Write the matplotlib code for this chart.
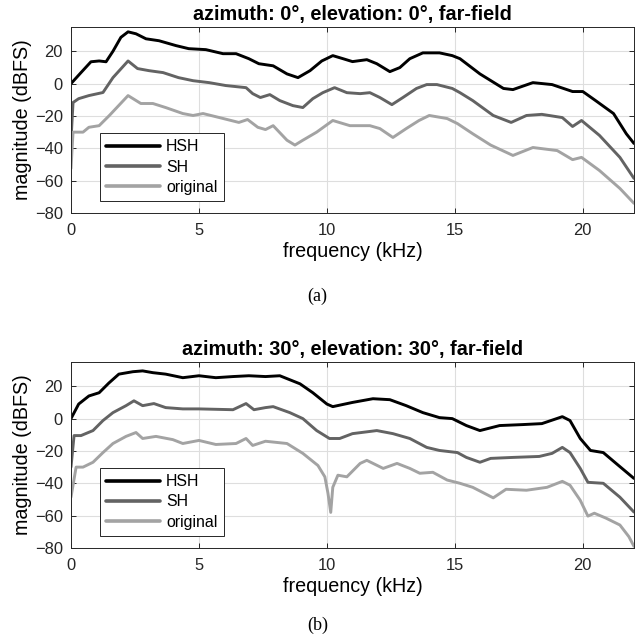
import matplotlib.pyplot as plt

plt.rcParams['font.family'] = ['Liberation Sans', 'DejaVu Sans']

# (a) azimuth 0, elevation 0
fa_hsh = [0, 0.39, 0.78, 1.1, 1.37, 1.64, 1.95, 2.23, 2.54, 2.93, 3.44, 4.1, 4.6, 5.27, 5.94,
          6.45, 6.95, 7.34, 7.9, 8.44, 8.87, 9.34, 9.8, 10.23, 10.63, 11.0, 11.56, 11.95, 12.46,
          12.85, 13.24, 13.75, 14.4, 14.9, 15.2, 15.98, 16.9, 17.27, 18.05, 18.8, 19.6, 20.0,
          20.5, 21.2, 21.7, 22.0]
a_hsh = [0, 6.8, 13.5, 14, 13.5, 20, 28.6, 32, 30.8, 27.7, 26.5, 23.5, 21.6, 21, 18.5,
         18.5, 15.4, 12.3, 11, 6, 3.7, 8, 14, 17.3, 15.4, 13.6, 14.8, 12.3, 7.4,
         9.9, 15.4, 19, 19, 17.3, 15.4, 6, -3, -3.7, 0.6, -0.6, -4.9, -4.9,
         -10.5, -18.5, -31, -37]

fa_sh = [0, 0.08, 0.3, 0.7, 1.25, 1.64, 2.23, 2.6, 3.05, 3.6, 4.2, 4.77, 5.4, 6.05, 6.84, 7.1,
         7.4, 7.77, 8.16, 8.67, 9.06, 9.45, 9.84, 10.3, 10.78, 11.3, 11.68, 12.07, 12.54, 12.97,
         13.5, 13.9, 14.3, 14.9, 15.2, 15.7, 16.5, 17.2, 17.8, 18.4, 19.2, 19.6, 19.95, 20.65,
         21.45, 22.0]
a_sh = [-35, -11.7, -9.3, -7.4, -5.5, 3.7, 14, 9.3, 8, 6.8, 3.7, 1.8, 0.6, -1.2, -2.5, -6.2,
        -8.6, -6.8, -10.5, -13.6, -14.8, -9.3, -5.6, -2.5, -5.6, -6.2, -5.6, -8.6, -13, -8.6,
        -3, -0.6, -0.6, -3, -5.6, -10.5, -19.7, -24, -19.7, -19, -21, -26.5, -22.8, -32,
        -45.6, -58.6]

fa_org = [0, 0.08, 0.47, 0.7, 1.1, 1.5, 2.23, 2.73, 3.2, 3.7, 4.37, 4.77, 5.16, 5.8, 6.56, 6.9,
          7.3, 7.6, 7.9, 8.44, 8.75, 9.06, 9.6, 10.23, 10.9, 11.68, 12.07, 12.58, 13.1, 13.6,
          14.0, 14.7, 15.1, 15.7, 16.4, 17.27, 18.05, 19.0, 19.6, 19.95, 20.65, 21.45, 22.0]
a_org = [-52.5, -30, -30, -27, -26, -19.7, -7.4, -12.3, -12.3, -14.8, -18.5, -19.7, -18.5, -21, -24, -22.2,
         -27, -28.4, -26, -35, -38, -35, -30, -22.8, -26, -26, -27.8, -33.3, -27.8, -22.8,
         -19.7, -21.6, -24.7, -31, -38, -44.4, -39.5, -41.4, -47, -45.6, -53.7, -64.8, -74]

# (b) azimuth 30, elevation 30
fb_hsh = [0, 0.3, 0.7, 1.1, 1.48, 1.87, 2.42, 2.8, 3.2, 3.7, 4.37, 5.0, 5.66, 6.33, 6.95, 7.6,
          8.16, 8.95, 9.45, 10.0, 10.23, 11.0, 11.8, 12.46, 13.1, 13.75, 14.4, 14.9, 15.45,
          15.98, 16.75, 17.65, 18.4, 18.98, 19.2, 19.5, 19.9, 20.3, 20.8, 21.3, 22.0]
b_hsh = [0, 9, 14, 16, 22, 27.5, 29, 29.5, 28.4, 27.5, 25.3, 26.5, 25.3, 26, 26.5, 26,
         26.5, 21.5, 16, 9, 7.4, 10, 12.3, 11.7, 8, 3.7, 0.6, 0, -4.3,
         -7.4, -4.3, -3.7, -3.1, 0, 1.2, -1.2, -12.3, -19.7, -21, -27.7, -37]

fb_sh = [0, 0.12, 0.39, 0.86, 1.25, 1.64, 2.15, 2.46, 2.8, 3.24, 3.7, 4.37, 5.0, 6.33, 6.84, 7.15,
         7.6, 7.9, 8.55, 9.06, 9.6, 10.1, 10.5, 11.0, 11.95, 12.58, 13.24, 13.9, 14.4, 15.1,
         15.45, 15.98, 16.4, 17.27, 18.3, 18.8, 19.2, 19.5, 19.9, 20.2, 20.8, 21.45, 22.0]
b_sh = [-30, -10.5, -10.5, -7.4, -1.2, 3.7, 8, 11, 8, 9.3, 6.8, 6, 6, 5.5, 9.3, 5.5,
        6.8, 7.4, 3.7, 0, -7.4, -12.3, -12.3, -9.3, -7.4, -9.3, -12.3, -17.8, -19.7, -21,
        -24, -27, -24.6, -24, -23.4, -21.5, -17.8, -21, -30.8, -39.4, -40, -48.6, -57.8]

fb_org = [0, 0.2, 0.47, 0.86, 1.25, 1.64, 2.15, 2.54, 2.8, 3.32, 3.98, 4.37, 5.0, 5.66, 6.45, 6.84,
          7.1, 7.6, 8.44, 9.06, 9.65, 9.92, 10.04, 10.15, 10.23, 10.43, 10.78, 11.3, 11.56, 12.2,
          12.74, 13.24, 13.63, 14.14, 14.7, 15.2, 15.7, 16.5, 17.0, 17.8, 18.6, 19.2, 19.5,
          19.9, 20.2, 20.45, 20.9, 21.45, 21.8, 22.0]
b_org = [-48.6, -30, -30, -27, -21, -15.4, -11, -8.6, -12.3, -11, -13, -15.4, -13.5, -16, -15.4, -12.3,
         -16.6, -14, -15.4, -21.5, -29, -36, -46, -58, -42.5, -35, -36, -27.7, -25.8, -30.8,
         -27.7, -30.8, -33.8, -33.2, -38, -40, -42.5, -49, -43.7, -44.3, -42.5, -38.8, -41.2,
         -50.5, -60.3, -58.5, -61.5, -65.8, -73, -79]

panels = [
    ('azimuth: 0°, elevation: 0°, far-field', '(a)',
     [(fa_hsh, a_hsh), (fa_sh, a_sh), (fa_org, a_org)]),
    ('azimuth: 30°, elevation: 30°, far-field', '(b)',
     [(fb_hsh, b_hsh), (fb_sh, b_sh), (fb_org, b_org)]),
]
names = ['HSH', 'SH', 'original']
colors = ['#000000', '#636363', '#a3a3a3']

fig = plt.figure(figsize=(6.35, 6.38), dpi=100)
ax_pos = [[0.1118, 0.6661, 0.8866, 0.2916], [0.1118, 0.1411, 0.8866, 0.2915]]
cap_y = [0.535, 0.020]

for i, (title, cap, series) in enumerate(panels):
    ax = fig.add_axes(ax_pos[i])
    for (f, m), name, c in zip(series, names, colors):
        ax.plot(f, m, color=c, linewidth=2.1, label=name,
                solid_joinstyle='round', solid_capstyle='round')
    ax.set_xlim(0, 22)
    ax.set_ylim(-80, 35)
    ax.set_xticks([0, 5, 10, 15, 20])
    ax.set_yticks([-80, -60, -40, -20, 0, 20])
    ax.grid(True, color='#dedede', linewidth=0.8)
    ax.set_axisbelow(True)
    ax.tick_params(direction='in', length=3.5, width=0.7, top=True, right=True,
                   labelsize=11.9, colors='#262626')
    ax.tick_params(axis='x', pad=7)
    ax.tick_params(axis='y', pad=6)
    for s in ax.spines.values():
        s.set_color('#262626')
        s.set_linewidth(0.7)
    ax.set_title(title, fontsize=14.3, fontweight='bold', pad=5)
    ax.set_xlabel('frequency (kHz)', fontsize=14.2, labelpad=3)
    ax.set_ylabel('magnitude (dBFS)', fontsize=14.2, labelpad=2)
    leg = ax.legend(loc='lower left', bbox_to_anchor=(0.051, 0.065), borderaxespad=0,
                    fontsize=11.4, fancybox=False, framealpha=1, edgecolor='#262626',
                    handlelength=3.4, handletextpad=0.4, labelspacing=0.32, borderpad=0.4)
    leg.get_frame().set_linewidth(0.7)
    for ln in leg.get_lines():
        ln.set_linewidth(2.6)
    fig.text(0.5, cap_y[i], cap, ha='center', va='center', fontsize=13,
             family=['Liberation Serif', 'DejaVu Serif'])

fig.savefig('out.png', dpi=100)
